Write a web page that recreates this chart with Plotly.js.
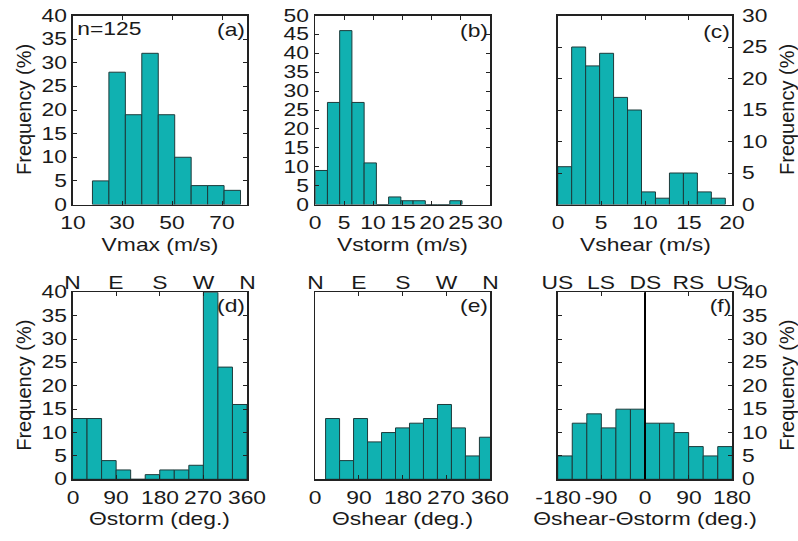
<!DOCTYPE html>
<html>
<head>
<meta charset="utf-8">
<script src="https://cdn.plot.ly/plotly-3.0.1.min.js"></script>
<style>html,body{margin:0;padding:0;background:#fff;}#chart{width:798px;height:541px;}</style>
</head>
<body>
<div id="chart"></div>
<script>
// ---- data ----
const sampleLabel = 'n=125';
const vmaxCenters = [21.3, 27.9, 34.5, 41.1, 47.7, 54.3, 60.9, 67.5, 74.1];
const vmaxFreq = [5, 28, 19, 32, 19, 10, 4, 4, 3];
const vmaxBinWidth = 6.6;

const vstormCenters = [1.05, 3.15, 5.25, 7.35, 9.45, 11.55, 13.65, 15.75, 17.85, 19.95, 22.05, 24.15];
const vstormFreq = [9, 27, 46, 27, 11, 0, 2, 1, 1, 0, 0, 1];
const vstormBinWidth = 2.1;

const vshearCenters = [0.8, 2.4, 4.0, 5.6, 7.2, 8.8, 10.4, 12.0, 13.6, 15.2, 16.8, 18.4];
const vshearFreq = [6, 25, 22, 24, 17, 15, 2, 1, 5, 5, 2, 1];
const vshearBinWidth = 1.6;

const thStormCenters = [15, 45, 75, 105, 135, 165, 195, 225, 255, 285, 315, 345];
const thStormFreq = [13, 13, 4, 2, 0, 1, 2, 2, 3, 40, 24, 16];
const thStormBinWidth = 30;

const thShearCenters = [35.8, 64.6, 93.4, 122.2, 151.0, 179.8, 208.6, 237.4, 266.2, 295.0, 323.8, 352.6];
const thShearFreq = [13, 4, 13, 8, 10, 11, 12, 13, 16, 11, 5, 9];
const thShearBinWidth = 28.8;

const dThCenters = [-165, -135, -105, -75, -45, -15, 15, 45, 75, 105, 135, 165];
const dThFreq = [5, 12, 14, 11, 15, 15, 12, 12, 10, 7, 5, 7];
const dThBinWidth = 30;

// tick values / labels
const vmaxTicks = [10, 30, 50, 70];
const vstormTicks = [0, 5, 10, 15, 20, 25, 30];
const vshearTicks = [0, 5, 10, 15, 20];
const angleTicks = [0, 90, 180, 270, 360];
const compassText = ['N', 'E', 'S', 'W', 'N'];
const relTicks = [-180, -90, 0, 90, 180];
const relTickText = ['-180', '-90', '0', '90', '180'];
const relText = ['US', 'LS', 'DS', 'RS', 'US'];
const freqTicks30 = [0, 5, 10, 15, 20, 25, 30];
const freqTicks40 = [0, 5, 10, 15, 20, 25, 30, 35, 40];
const freqTicks50 = [0, 5, 10, 15, 20, 25, 30, 35, 40, 45, 50];

const panelLabels = ['(a)', '(b)', '(c)', '(d)', '(e)', '(f)'];
const xTitles = ['Vmax (m/s)', 'Vstorm (m/s)', 'Vshear (m/s)', 'Θstorm (deg.)', 'Θshear (deg.)', 'Θshear-Θstorm (deg.)'];
const yTitle = 'Frequency (%)';

// ---- styling ----
const W = 798, H = 541;
const FONT = 'Liberation Sans, Arial, sans-serif';
const FS = 18;
const TXT = '#1a1a1a';
const BAR = '#10b1b1';
const EDGE = '#1d3b3b';
const AX = '#222';

const px = v => v / W;
const py = v => 1 - v / H;
const colX = [[72.5, 247], [315.2, 490], [557.7, 732.3]];
const rowY = [[15.5, 204.5], [292.3, 479.3]];
const tagPos = [[231, 30], [474, 31], [716, 32], [231, 306], [474, 306], [720, 306]];
const nPos = [109, 29];
const font = {family: FONT, size: FS, color: TXT};

function barTrace(xs, ys, w, xa, ya) {
  return {type: 'bar', x: xs, y: ys, width: xs.map(() => w), xaxis: xa, yaxis: ya,
    marker: {color: BAR, line: {color: EDGE, width: 1}}, hoverinfo: 'skip', showlegend: false};
}
const traces = [
  barTrace(vmaxCenters, vmaxFreq, vmaxBinWidth, 'x', 'y'),
  barTrace(vstormCenters, vstormFreq, vstormBinWidth, 'x2', 'y2'),
  barTrace(vshearCenters, vshearFreq, vshearBinWidth, 'x3', 'y3'),
  barTrace(thStormCenters, thStormFreq, thStormBinWidth, 'x4', 'y4'),
  barTrace(thShearCenters, thShearFreq, thShearBinWidth, 'x5', 'y5'),
  barTrace(dThCenters, dThFreq, dThBinWidth, 'x6', 'y6')
];

function xAx(col, range, tickvals, anchor) {
  return {domain: [px(colX[col][0]), px(colX[col][1])], anchor: anchor, range: range,
    tickmode: 'array', tickvals: tickvals, ticks: 'inside', ticklen: 4, tickwidth: 1, tickcolor: AX,
    showline: true, linecolor: AX, linewidth: 1.5, mirror: 'ticks', showgrid: false, zeroline: false,
    showticklabels: false, fixedrange: true};
}
function yAx(row, range, tickvals, anchor, side, ticks) {
  return {domain: [py(rowY[row][1]), py(rowY[row][0])], anchor: anchor, range: range, side: side,
    tickmode: 'array', tickvals: tickvals, ticks: ticks, ticklen: 4, tickwidth: 1, tickcolor: AX,
    showline: true, linecolor: AX, linewidth: 1.5, mirror: ticks ? 'ticks' : true, showgrid: false, zeroline: false,
    showticklabels: false, fixedrange: true};
}

const annotations = [];
function xLabels(axis, vals, texts, ypx) {
  vals.forEach((v, i) => annotations.push({xref: axis, yref: 'paper', x: v, y: py(ypx), xanchor: 'center', yanchor: 'middle',
    text: texts ? texts[i] : String(v), showarrow: false, font: font}));
}
function yLabels(axis, vals, xpx, side) {
  const a = side === 'left' ? 'right' : 'left';
  vals.forEach(v => annotations.push({xref: 'paper', yref: axis, x: px(xpx), y: v, xanchor: a, align: a, yanchor: 'middle',
    text: String(v), showarrow: false, font: font}));
}
const rowTickY = [223, 498];
xLabels('x', vmaxTicks, null, rowTickY[0]);
xLabels('x2', vstormTicks, null, rowTickY[0]);
xLabels('x3', vshearTicks, null, rowTickY[0]);
xLabels('x4', angleTicks, null, rowTickY[1]);
xLabels('x5', angleTicks, null, rowTickY[1]);
xLabels('x6', relTicks, relTickText, rowTickY[1]);
xLabels('x4', angleTicks, compassText, 283);
xLabels('x5', angleTicks, compassText, 283);
xLabels('x6', relTicks, relText, 283);
yLabels('y', freqTicks40, 69, 'left');
yLabels('y2', freqTicks50, 311, 'left');
yLabels('y3', freqTicks30, 739.5, 'right');
yLabels('y4', freqTicks40, 69, 'left');
yLabels('y6', freqTicks40, 739.5, 'right');

panelLabels.forEach((lab, i) => {
  annotations.push({xref: 'paper', yref: 'paper', x: px(tagPos[i][0]), y: py(tagPos[i][1]),
    xanchor: 'center', yanchor: 'middle', text: lab, showarrow: false, font: font});
  const col = i % 3, row = Math.floor(i / 3);
  annotations.push({xref: 'paper', yref: 'paper', x: px((colX[col][0] + colX[col][1]) / 2),
    y: py(row === 0 ? 245 : 519), xanchor: 'center', yanchor: 'middle', text: xTitles[i], showarrow: false, font: font});
});
annotations.push({xref: 'paper', yref: 'paper', x: px(nPos[0]), y: py(nPos[1]), xanchor: 'center', yanchor: 'middle',
  text: sampleLabel, showarrow: false, font: font});
[[24, 0], [24, 1], [787, 0], [787, 1]].forEach(([xx, row]) => {
  annotations.push({xref: 'paper', yref: 'paper', x: px(xx), y: py((rowY[row][0] + rowY[row][1]) / 2),
    xanchor: 'center', yanchor: 'middle', textangle: -90, text: yTitle, showarrow: false,
    font: {family: FONT, size: 20, color: TXT}});
});

const layout = {
  width: W, height: H, margin: {l: 0, r: 0, t: 0, b: 0}, paper_bgcolor: '#fff', plot_bgcolor: '#fff',
  showlegend: false, bargap: 0, font: font,
  xaxis: xAx(0, [10, 80], vmaxTicks, 'y'),
  yaxis: yAx(0, [0, 40], freqTicks40, 'x', 'left', 'inside'),
  xaxis2: xAx(1, [0, 30], vstormTicks, 'y2'),
  yaxis2: yAx(0, [0, 50], freqTicks50, 'x2', 'left', 'inside'),
  xaxis3: xAx(2, [0, 20], vshearTicks, 'y3'),
  yaxis3: yAx(0, [0, 30], freqTicks30, 'x3', 'right', 'inside'),
  xaxis4: xAx(0, [0, 360], angleTicks, 'y4'),
  yaxis4: yAx(1, [0, 40], freqTicks40, 'x4', 'left', 'inside'),
  xaxis5: xAx(1, [0, 360], angleTicks, 'y5'),
  yaxis5: yAx(1, [0, 40], freqTicks40, 'x5', 'left', ''),
  xaxis6: xAx(2, [-180, 180], relTicks, 'y6'),
  yaxis6: yAx(1, [0, 40], freqTicks40, 'x6', 'right', 'inside'),
  shapes: [{type: 'line', xref: 'x6', yref: 'y6 domain', x0: 0, x1: 0, y0: 0, y1: 1, line: {color: '#000', width: 2}}],
  annotations: annotations
};

// The reference text is horizontally stretched: scale non-rotated labels about their anchor point.
const STRETCH = 1.27;
function isRotated(el) {
  let n = el;
  while (n && n.getAttribute) {
    const tr = n.getAttribute('transform') || '';
    const m = tr.match(/rotate\(\s*(-?[\d.]+)/);
    if (m && Math.abs(parseFloat(m[1])) > 1) return true;
    n = n.parentNode;
  }
  return false;
}
function stretchOne(t) {
  const tr = t.getAttribute('transform') || '';
  if (tr.indexOf('scale(') >= 0) return;
  if (isRotated(t)) return;
  let bb;
  try { bb = t.getBBox(); } catch (e) { return; }
  if (!bb || bb.width <= 0) return;
  const anchor = (t.getAttribute('text-anchor') || getComputedStyle(t).textAnchor || 'start');
  let cx = bb.x + bb.width / 2;
  if (anchor === 'start') cx = bb.x;
  else if (anchor === 'end') cx = bb.x + bb.width;
  t.setAttribute('transform', (tr + ' translate(' + cx.toFixed(2) + ',0) scale(' + STRETCH + ',1) translate(' + (-cx).toFixed(2) + ',0)').trim());
}
function stretchText() {
  document.querySelectorAll('#chart svg text').forEach(stretchOne);
}

Plotly.newPlot('chart', traces, layout, {displayModeBar: false, staticPlot: true}).then(() => {
  stretchText();
  requestAnimationFrame(stretchText);
  [30, 120, 300].forEach(d => setTimeout(stretchText, d));
});
</script>
</body>
</html>
